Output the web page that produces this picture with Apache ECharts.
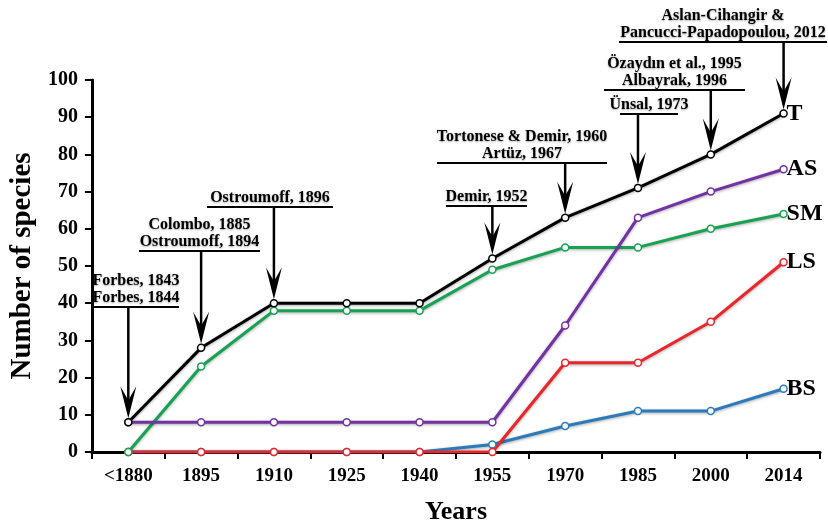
<!DOCTYPE html>
<html>
<head>
<meta charset="utf-8">
<script src="https://cdn.jsdelivr.net/npm/echarts@6/dist/echarts.min.js"></script>
<style>html,body{margin:0;padding:0;background:#fff;}#c{width:828px;height:530px;}</style>
</head>
<body>
<div id="c"></div>
<script>
// ---- data ----
const categories = ['<1880','1895','1910','1925','1940','1955','1970','1985','2000','2014'];
const seriesNames = ['BS','LS','SM','AS','T'];
const valuesBS = [0, 0, 0, 0, 0, 2, 7, 11, 11, 17];
const valuesLS = [0, 0, 0, 0, 0, 0, 24, 24, 35, 51];
const valuesSM = [0, 23, 38, 38, 38, 49, 55, 55, 60, 64];
const valuesAS = [8, 8, 8, 8, 8, 8, 34, 63, 70, 76];
const valuesT  = [8, 28, 40, 40, 40, 52, 63, 71, 80, 91];
const yTicks = [0,10,20,30,40,50,60,70,80,90,100];

// annotations (text) and the category of the total (T) point they point at
const annTexts = [
  ['Forbes, 1843','Forbes, 1844'],
  ['Colombo, 1885','Ostroumoff, 1894'],
  ['Ostroumoff, 1896'],
  ['Demir, 1952'],
  ['Tortonese & Demir, 1960','Artüz, 1967'],
  ['Ünsal, 1973'],
  ['Özaydın et al., 1995','Albayrak, 1996'],
  ['Aslan-Cihangir &','Pancucci-Papadopoulou, 2012']
];
const annCategory = [0,1,2,5,6,7,8,9];

// ---- layout / style (not data) ----
const annLayout = [ // [lineX1, lineX2, lineY]
  [93,179,307],[139,260,251],[207,333,207],[446,527,206],
  [437,607,163],[620,678,114],[604,745,90],[619,827,42]
];
const colors = {BS:'#2b7bba', LS:'#e8262b', SM:'#17a253', AS:'#7232a3', T:'#000000'};
const valuesByName = {BS:valuesBS, LS:valuesLS, SM:valuesSM, AS:valuesAS, T:valuesT};
const serif = '"Liberation Serif", "DejaVu Serif", serif';

const chart = echarts.init(document.getElementById('c'));

const series = seriesNames.map(n => ({
  name: n, type: 'line', data: valuesByName[n],
  symbol: 'circle', symbolSize: 7, showAllSymbol: true,
  lineStyle: {color: colors[n], width: 3, shadowColor:'rgba(0,0,0,0.35)', shadowBlur:3, shadowOffsetY:1},
  itemStyle: {color: '#fff', borderColor: colors[n], borderWidth: 1.5},
  emphasis: {disabled: true},
  animation: false,
  endLabel: {show: true, formatter: '{a}', color:'#000', fontFamily: serif, fontWeight:'bold', fontSize: 24, distance: 3}
}));

chart.setOption({
  animation: false,
  backgroundColor: '#fff',
  grid: {left: 88, right: 8, top: 80, bottom: 71, containLabel: false},
  xAxis: {
    type: 'category', data: categories, boundaryGap: true,
    name: 'Years', nameLocation: 'middle', nameGap: 47,
    nameTextStyle: {fontFamily: serif, fontWeight:'bold', fontSize: 26, color:'#000'},
    axisLine: {lineStyle: {color:'#000', width: 3}},
    axisTick: {show: true, length: 7, lineStyle: {color:'#000', width: 2}},
    axisLabel: {fontFamily: serif, fontWeight:'bold', fontSize: 19, color:'#000', margin: 15}
  },
  yAxis: {
    type: 'value', min: yTicks[0], max: yTicks[yTicks.length-1], interval: 10,
    name: 'Number of species', nameLocation: 'middle', nameGap: 53, nameRotate: 90,
    nameTextStyle: {fontFamily: serif, fontWeight:'bold', fontSize: 29, color:'#000'},
    splitLine: {show: false},
    axisLine: {show: true, lineStyle: {color:'#000', width: 3}},
    axisTick: {show: true, length: 7, lineStyle: {color:'#000', width: 2}},
    axisLabel: {fontFamily: serif, fontWeight:'bold', fontSize: 20, color:'#000', margin: 14}
  },
  series: series
});

// annotations, arrow tips from the chart's own scale
const g = [];
annTexts.forEach((lines, i) => {
  const [x1, x2, ly] = annLayout[i];
  const cx = (x1 + x2) / 2;
  const n = lines.length;
  lines.forEach((t, j) => {
    g.push({type:'text', z: 100, style: {
      text: t, x: cx, y: ly - 9 - (n - 1 - j) * 17, align:'center', verticalAlign:'middle',
      font: 'bold 16px ' + serif, fill:'#000',
      textShadowColor:'rgba(0,0,0,0.35)', textShadowBlur: 2, textShadowOffsetY: 1
    }});
  });
  g.push({type:'line', z: 100, shape:{x1:x1, y1:ly, x2:x2, y2:ly}, style:{stroke:'#000', lineWidth:2}});
  const c = annCategory[i];
  const p = chart.convertToPixel({gridIndex: 0}, [c, valuesT[c]]);
  const ax = p[0], tip = p[1] - 4;
  g.push({type:'line', z: 100, shape:{x1:ax, y1:ly, x2:ax, y2:tip - 14}, style:{stroke:'#000', lineWidth:2.5}});
  g.push({type:'polygon', z: 100, shape:{points:[[ax, tip],[ax-8, tip-32],[ax, tip-18],[ax+8, tip-32]]}, style:{fill:'#000'}});
});
chart.setOption({graphic: g});
</script>
</body>
</html>
